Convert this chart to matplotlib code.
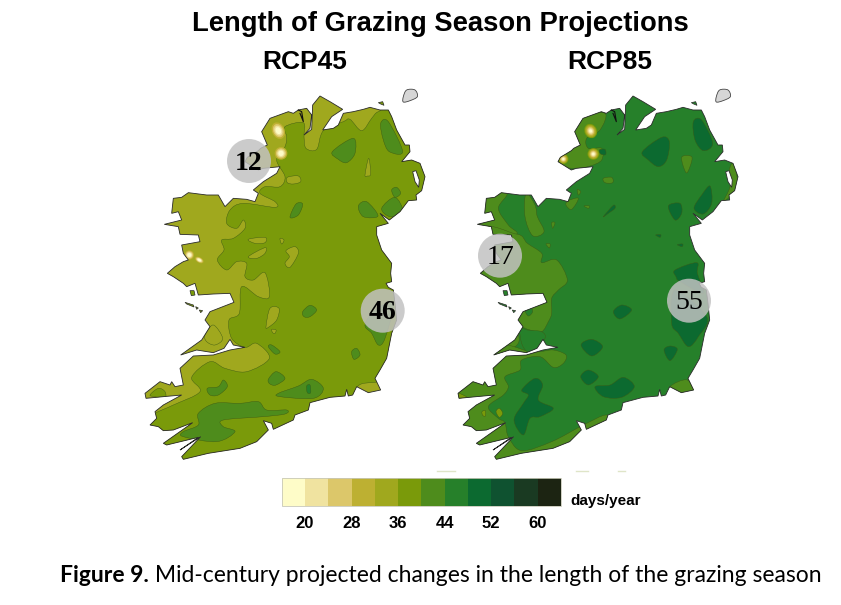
import numpy as np
import matplotlib
matplotlib.use("Agg")
import matplotlib.pyplot as plt
from matplotlib.path import Path
from matplotlib.patches import PathPatch, Ellipse, Circle
from matplotlib.colors import ListedColormap, BoundaryNorm
from matplotlib.cm import ScalarMappable

title = "Length of Grazing Season Projections"
panel_titles = ["RCP45", "RCP85"]
caption_bold = "Figure 9."
caption_rest = " Mid-century projected changes in the length of the grazing season"
unit = "days/year"
levels = [16, 20, 24, 28, 32, 36, 40, 44, 48, 52, 56, 60, 64]
tick_values = [20, 28, 36, 44, 52, 60]
colors = ["#fefcc8", "#f0e3a0", "#dcc76a", "#bdb032", "#a0a81e", "#7a9a0a",
          "#4e8c1c", "#26802a", "#0c6a30", "#0f5230", "#1a3a22", "#1c2412"]

# map outline, in map units (left panel)
coast = [(570,48),(600,65),(638,88),(605,110),(578,150),(610,145),(625,135),(640,100),(670,95),(700,88),(720,82),(750,90),
 (775,90),(785,110),(800,150),(825,195),(838,195),(840,215),(815,245),(845,240),(870,250),(885,290),(875,332),(858,345),
 (860,360),(835,362),(810,395),(778,420),(750,400),(775,430),(740,440),(740,465),(755,510),(785,550),(782,580),(785,605),
 (768,610),(775,622),(790,630),(795,670),(800,720),(785,760),(775,810),(770,835),(750,870),(735,895),(752,930),(715,938),
 (680,920),(668,945),(655,948),(650,928),(645,948),(600,952),(540,968),(535,990),(495,1005),(490,1020),(430,1048),(425,1030),
 (400,1022),(415,1050),(380,1085),(330,1105),(235,1120),(160,1138),(155,1130),(212,1070),(150,1110),(205,1072),(110,1095),
 (100,1090),(188,1028),(130,1050),(100,1052),(85,1040),(60,1035),(80,1015),(75,995),(100,975),(155,945),(100,950),(48,955),
 (45,940),(90,905),(120,915),(125,905),(135,920),(160,915),(150,865),(190,828),(250,825),(300,810),(345,802),(310,795),
 (300,778),(282,805),(250,818),(200,810),(152,825),(215,780),(240,740),(225,720),(240,695),(312,667),(300,640),(250,642),
 (205,645),(195,610),(170,620),(160,610),(130,590),(112,580),(135,560),(160,545),(175,540),(160,520),(155,495),(210,485),
 (205,465),(150,463),(145,440),(103,433),(135,425),(155,420),(145,395),(125,400),(130,355),(155,352),(175,338),(230,345),
 (265,345),(285,380),(310,355),(350,358),(375,365),(385,340),(370,330),(400,305),(440,280),(450,260),(400,265),(385,270),
 (345,245),(352,232),(385,212),(392,205),(412,195),(395,155),(420,115),(475,95),(490,100),(505,90),(530,85),(545,105),
 (540,145),(522,165),(545,148),(548,75)]
strangford = [(848,275),(858,272),(868,300),(866,322),(855,305)]
isle_of_man = [(820,50),(830,30),(855,30),(862,50),(840,62),(820,66)]
islands = [[(745,68),(758,65),(762,76),(752,72)],
           [(180,632),(192,632),(195,645),(184,647)],
           [(165,667),(190,675),(192,681),(170,672)],
           [(197,680),(205,684),(200,688)],
           [(208,690),(218,692),(212,698)]]
foyle_inlet = [(505,90),(515,95),(520,125),(510,100)]

# left panel: regions (value, outline)
l_base = 34
l_regions = [
 (38, [(465,140),(520,128),(522,170),(528,205),(560,208),(580,152),(640,125),(660,118),(695,152),(725,115),(745,95),(790,90),
  (920,200),(920,560),(840,800),(900,880),(748,905),(682,920),(660,1000),(540,1040),(300,1200),(100,1150),(60,1020),(75,1000),
  (130,975),(210,935),(185,892),(240,845),(285,865),(350,875),(418,835),(380,790),(345,802),(305,775),(297,720),(328,700),
  (335,620),(385,650),(418,650),(405,578),(370,600),(345,590),(350,550),(320,545),(290,570),(262,540),(282,510),(275,480),
  (310,475),(345,445),(340,420),(320,445),(290,430),(300,390),(340,370),(435,382),(435,365),(390,340),(405,320),(450,320),
  (465,290),(440,240),(465,200),(470,170)]),
 (38, [(60,945),(85,925),(105,935),(105,955),(75,950)]),
 (34, [(472,292),(505,288),(512,305),(490,312),(472,308)]),
 (34, [(705,285),(716,235),(722,282),(712,288)]),
 (34, [(355,478),(405,472),(405,488),(375,490)]),
 (34, [(450,475),(462,480),(455,492)]),
 (34, [(468,512),(495,500),(505,520),(480,562),(465,550),(478,530)]),
 (34, [(355,530),(405,503),(405,520),(380,535)]),
 (34, [(408,740),(420,685),(447,685),(440,720),(415,742)]),
 (34, [(425,748),(438,750),(435,760),(428,758)]),
 (42, [(607,215),(670,175),(675,220),(650,248),(625,238)]),
 (42, [(752,130),(775,125),(818,215),(778,215),(760,180)]),
 (42, [(685,378),(710,365),(744,408),(700,410)]),
 (42, [(755,385),(795,352),(818,395),(780,410)]),
 (42, [(785,330),(800,322),(812,340),(795,352)]),
 (42, [(480,412),(498,372),(518,372),(505,405)]),
 (42, [(518,695),(540,676),(560,690),(540,710),(522,710)]),
 (42, [(705,735),(735,690),(790,670),(765,775),(745,795),(725,760)]),
 (42, [(665,815),(680,805),(690,825),(672,838)]),
 (42, [(415,800),(425,795),(450,815),(435,822)]),
 (42, [(415,898),(438,875),(465,895),(438,915),(420,912)]),
 (42, [(445,940),(505,918),(545,898),(580,925),(550,955),(450,950)]),
 (42, [(232,925),(265,920),(280,900),(292,920),(265,945),(240,945)]),
 (42, [(160,1055),(205,1035),(205,1000),(255,970),(330,970),(385,965),(410,990),(470,990),(465,1002),(400,1010),(280,1020),
  (280,1040),(315,1055),(260,1085),(160,1070)]),
 (34, [(225,765),(250,735),(278,775),(255,795),(230,785)]),
 (46, [(530,918),(540,915),(542,938),(532,938)]),
]
l_hot = [(445,152,38,52,25),(453,220,38,38,0),(178,525,28,28,0),(208,540,28,16,-30)]

# right panel: regions (value, outline)
r_base = 46
r_regions = [
 (42, [(420,110),(495,100),(480,150),(440,175),(445,205),(485,205),(485,240),(450,258),(405,265),(340,255),(340,225),(390,200),(395,155)]),
 (42, [(120,350),(200,340),(175,385),(205,435),(230,462),(150,470),(110,430)]),
 (42, [(258,340),(285,375),(292,410),(312,455),(278,467),(255,410)]),
 (42, [(385,362),(415,355),(395,388),(378,375)]),
 (42, [(412,328),(422,335),(415,345)]),
 (42, [(432,378),(448,378),(445,385)]),
 (42, [(490,295),(515,292),(518,308),(495,308)]),
 (42, [(725,232),(755,230),(750,260),(738,278)]),
 (42, [(335,428),(345,428),(338,445)]),
 (42, [(318,492),(330,492),(328,504)]),
 (42, [(100,470),(228,462),(262,490),(305,520),(305,548),(350,540),(382,600),(355,630),(335,655),(335,700),(325,725),(305,755),
  (270,750),(240,740),(235,755),(225,800),(100,850)]),
 (42, [(270,815),(300,815),(340,810),(378,825),(370,850),(340,862),(300,830),(245,840),(240,870),(195,890),(205,920),(190,945),
  (145,980),(175,1015),(195,1028),(205,1070),(245,1112),(335,1085),(420,1040),(440,1030),(500,1005),(520,1040),(300,1180),(40,1100),(20,950),(150,800)]),
 (42, [(690,920),(742,900),(770,945),(700,950)]),
 (42, [(880,250),(892,300),(882,335),(850,365),(870,320),(868,270)]),
 (38, [(55,940),(85,955),(60,962)]),
 (38, [(168,995),(178,985),(188,1000),(178,1012)]),
 (38, [(126,995),(136,992),(136,1008),(128,1006)]),
 (46, [(255,690),(270,680),(278,695),(265,708)]),
 (46, [(240,745),(262,750),(305,755),(315,775),(285,810),(262,815),(245,790)]),
 (50, [(607,215),(665,172),(688,185),(680,240),(655,260),(625,240)]),
 (50, [(760,125),(785,120),(818,190),(790,212),(765,180)]),
 (50, [(685,378),(720,370),(725,400),(705,420)]),
 (50, [(762,385),(785,345),(810,318),(815,370),(790,402)]),
 (50, [(490,410),(520,376),(525,385),(505,400)]),
 (50, [(478,210),(495,208),(497,224),(482,222)]),
 (50, [(647,465),(662,464),(660,472)]),
 (50, [(712,494),(728,492),(726,500)]),
 (50, [(705,570),(770,548),(772,580),(790,640),(720,605),(708,590)]),
 (50, [(695,730),(705,630),(800,710),(775,770),(745,800),(715,760)]),
 (50, [(520,695),(545,675),(575,690),(540,717)]),
 (50, [(423,795),(455,778),(488,800),(455,828)]),
 (50, [(672,810),(690,798),(712,808),(690,842)]),
 (50, [(422,890),(445,870),(475,890),(445,915)]),
 (50, [(465,920),(510,915),(550,892),(583,920),(545,952),(490,950)]),
 (50, [(285,895),(308,915),(295,960),(340,985),(300,1010),(270,1015),(250,1065),(222,1020),(250,970),(265,945),(245,930)]),
]
r_hot = [(452,153,34,40,25),(460,222,32,32,0),(370,237,28,28,0)]

cmap = ListedColormap(colors)
norm = BoundaryNorm(levels, cmap.N)

fig = plt.figure(figsize=(8.41, 6.05), dpi=100)
ax = fig.add_axes([0, 0, 1, 1])
ax.set_xlim(0, 841)
ax.set_ylim(605, 0)
ax.axis("off")


def place(points, x0, dx=0.0):
    a = np.asarray(points, float)
    return np.column_stack((x0 + (a[:, 0] + dx) / 3.0, 80 + a[:, 1] / 3.0))


def poly_path(p):
    return Path(np.vstack((p, p[:1])), closed=True)


def smooth_path(p):
    # closed curve through every listed point
    prev = np.roll(p, 1, axis=0)
    nxt = np.roll(p, -1, axis=0)
    nxt2 = np.roll(p, -2, axis=0)
    verts, codes = [p[0]], [Path.MOVETO]
    for a, b, c, d in zip(prev, p, nxt, nxt2):
        verts += [b + (c - a) / 6, c - (d - b) / 6, c]
        codes += [Path.CURVE4] * 3
    return Path(verts, codes)


def draw_panel(x0, dx, base, regions, hots, rings):
    land = place(coast, x0, dx)
    base_patch = PathPatch(poly_path(land), fc=cmap(norm(base)), ec="none", zorder=1)
    ax.add_patch(base_patch)
    for value, pts in regions:
        col = cmap(norm(value))
        p = PathPatch(smooth_path(place(pts, x0)), fc=col, ec="#3c5a14", lw=0.3, zorder=2)
        ax.add_patch(p)
        p.set_clip_path(base_patch)
    for hx, hy, w, h, ang in hots:
        for f, value in rings:
            c = place([(hx, hy)], x0)[0]
            e = Ellipse(c, w / 3 * f, h / 3 * f, angle=-ang, fc=cmap(norm(value)), ec="none", zorder=3)
            ax.add_patch(e)
            e.set_clip_path(base_patch)
    ax.add_patch(PathPatch(poly_path(land), fc="none", ec="#2a2a2a", lw=0.6, zorder=4))
    ax.add_patch(PathPatch(poly_path(place(strangford, x0, dx)), fc="white", ec="#2a2a2a", lw=0.6, zorder=4))
    ax.plot(*place(foyle_inlet, x0, dx).T, color="#111111", lw=0.8, zorder=4)
    for isl in islands:
        ax.add_patch(PathPatch(poly_path(place(isl, x0, dx)), fc=cmap(norm(base + 4 if base < 40 else base)),
                               ec="#2a2a2a", lw=0.5, zorder=4))
    ax.add_patch(PathPatch(smooth_path(place(isle_of_man, x0, dx)), fc="#d6d6d6", ec="#444444", lw=0.6, zorder=4))


draw_panel(130, 0, l_base, l_regions, l_hot, [(1.0, 30), (0.8, 26), (0.6, 22), (0.42, 18)])
draw_panel(440, 9, r_base, r_regions, r_hot, [(1.1, 38), (0.95, 34), (0.78, 30), (0.6, 26), (0.42, 22), (0.25, 18)])

# faint scan artefacts above the colour bar
for xa, xb in ((437, 455), (576, 588), (618, 625)):
    ax.plot([xa, xb], [470.7, 470.7], color="#dfe5c8", lw=1.0, zorder=1)

# labelled circles
markers = [("12", 249, 161, "bold"), ("46", 382.7, 310.7, "bold"), ("17", 500, 255.7, "normal"), ("55", 689, 300.7, "normal")]
for label, cx, cy, wt in markers:
    ax.add_patch(Circle((cx, cy), 22, fc="#c2c2c2", ec="none", alpha=0.84, zorder=5))
    ax.text(cx, cy + 2, label, family="Liberation Serif", fontsize=20, fontweight=wt, ha="center", va="center",
            color="black", zorder=6)

ax.text(440, 24, title, family="Liberation Sans", fontweight="bold", fontsize=19.7, ha="center", va="center")
ax.text(305, 62, panel_titles[0], family="Liberation Sans", fontweight="bold", fontsize=19, ha="center", va="center")
ax.text(610, 62, panel_titles[1], family="Liberation Sans", fontweight="bold", fontsize=19, ha="center", va="center")

# colour bar
cax = fig.add_axes([281.7 / 841, 1 - 506 / 605, (561 - 281.7) / 841, 27.7 / 605])
cb = fig.colorbar(ScalarMappable(norm=norm, cmap=cmap), cax=cax, orientation="horizontal", spacing="uniform",
                  ticks=tick_values, drawedges=False)
cb.outline.set_edgecolor("#c8c8b8")
cb.outline.set_linewidth(0.6)
cax.minorticks_off()
cax.tick_params(which="both", length=0, pad=7, labelsize=12)
for t in cax.get_xticklabels():
    t.set_family("Liberation Sans")
    t.set_fontweight("bold")
ax.text(570, 501, unit, family="Liberation Sans", fontweight="bold", fontsize=11, ha="left", va="center")

# caption
r = fig.canvas.get_renderer()
t1 = ax.text(60, 575, caption_bold, family="Lato", fontweight="bold", fontsize=16.5, ha="left", va="center")
bb = t1.get_window_extent(r)
ax.text(bb.x1, 575, caption_rest, family="Lato", fontsize=16.5, ha="left", va="center")

fig.savefig("out.png", dpi=100)
